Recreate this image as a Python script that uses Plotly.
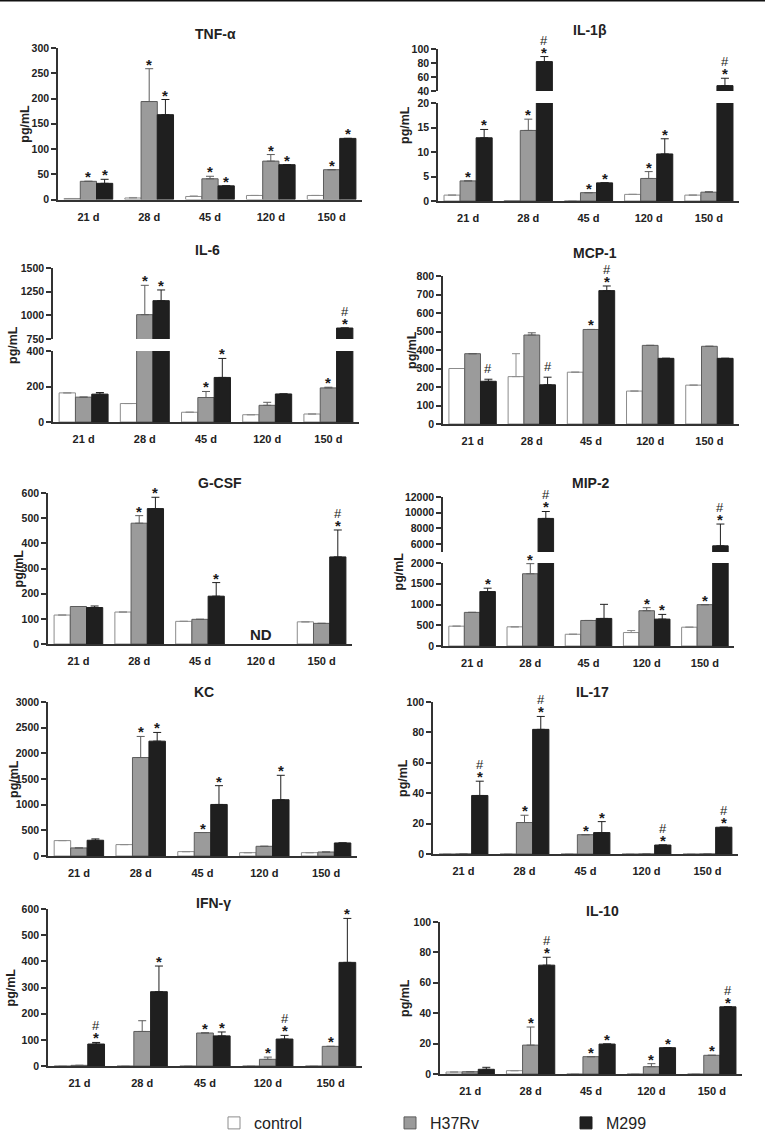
import plotly.graph_objects as go

W, H = 765, 1134

days = ["21 d", "28 d", "45 d", "120 d", "150 d"]
series_names = ["control", "H37Rv", "M299"]

# ---------------- data (mean, SEM, significance marks) ----------------
tnf_ctrl = [2, 3, 6, 8, 8]
tnf_ctrl_err = [0, 1, 1, 0, 0]
tnf_h37 = [36, 194, 41, 76, 59]
tnf_h37_err = [0, 65, 5, 13, 0]
tnf_m299 = [32, 168, 27, 69, 121]
tnf_m299_err = [8, 30, 0, 0, 0]
tnf_marks = [["", "", "", "", ""], ["*", "*", "*", "*", "*"], ["*", "*", "*", "*", "*"]]

il1b_ctrl = [1.2, 0.1, 0, 1.35, 1.2]
il1b_ctrl_err = [0, 0, 0, 0, 0]
il1b_h37 = [4.1, 14.4, 1.7, 4.6, 1.8]
il1b_h37_err = [0, 2.3, 0, 1.4, 0.1]
il1b_m299 = [12.9, 82, 3.7, 9.6, 47.7]
il1b_m299_err = [1.7, 7.2, 0, 3.1, 10.5]
il1b_marks = [["", "", "", "", ""], ["*", "*", "*", "*", ""], ["*", "#*", "*", "*", "#*"]]

il6_ctrl = [164, 104, 55, 41, 45]
il6_ctrl_err = [0, 0, 0, 0, 0]
il6_h37 = [140, 1007, 138, 94, 192]
il6_h37_err = [0, 310, 34, 17, 4]
il6_m299 = [157, 1155, 251, 158, 866]
il6_m299_err = [9, 113, 107, 0, 0]
il6_marks = [["", "", "", "", ""], ["", "*", "*", "", "*"], ["", "*", "*", "", "#*"]]

mcp1_ctrl = [300, 256, 280, 178, 210]
mcp1_ctrl_err = [0, 124, 0, 0, 0]
mcp1_h37 = [380, 481, 511, 425, 420]
mcp1_h37_err = [0, 12, 0, 0, 0]
mcp1_m299 = [231, 212, 721, 355, 355]
mcp1_m299_err = [11, 41, 25, 0, 0]
mcp1_marks = [["", "", "", "", ""], ["", "", "*", "", ""], ["#", "#", "#*", "", ""]]

gcsf_ctrl = [115, 127, 90, None, 88]
gcsf_ctrl_err = [0, 0, 0, 0, 0]
gcsf_h37 = [149, 480, 98, None, 82]
gcsf_h37_err = [0, 30, 0, 0, 0]
gcsf_m299 = [145, 538, 190, None, 346]
gcsf_m299_err = [6, 45, 54, 0, 107]
gcsf_marks = [["", "", "", "", ""], ["", "*", "", "", ""], ["", "*", "*", "", "#*"]]

mip2_ctrl = [478, 462, 283, 324, 453]
mip2_ctrl_err = [0, 0, 0, 48, 0]
mip2_h37 = [810, 1741, 615, 850, 996]
mip2_h37_err = [0, 243, 0, 73, 0]
mip2_m299 = [1312, 9272, 664, 648, 5789]
mip2_m299_err = [81, 882, 340, 113, 2770]
mip2_marks = [["", "", "", "", ""], ["", "*", "", "*", "*"], ["*", "#*", "", "*", "#*"]]

kc_ctrl = [300, 222, 85, 65, 65]
kc_ctrl_err = [0, 0, 0, 0, 0]
kc_h37 = [157, 1918, 457, 189, 78]
kc_h37_err = [0, 411, 0, 0, 0]
kc_m299 = [307, 2237, 1004, 1096, 254]
kc_m299_err = [26, 170, 366, 476, 0]
kc_marks = [["", "", "", "", ""], ["", "*", "*", "", ""], ["", "*", "*", "*", ""]]

il17_ctrl = [0, 0, 0, 0, 0]
il17_ctrl_err = [0, 0, 0, 0, 0]
il17_h37 = [0, 20.7, 12.7, 0, 0]
il17_h37_err = [0, 4.8, 0, 0, 0]
il17_m299 = [38.5, 82, 14.1, 5.9, 17.6]
il17_m299_err = [9.4, 8.5, 7.2, 0, 0]
il17_marks = [["", "", "", "", ""], ["", "*", "*", "", ""], ["#*", "#*", "*", "#*", "#*"]]

ifng_ctrl = [0, 0, 0, 0, 0]
ifng_ctrl_err = [0, 0, 0, 0, 0]
ifng_h37 = [2.5, 132, 126, 25.5, 75]
ifng_h37_err = [0, 41, 1, 8.5, 0]
ifng_m299 = [84, 284, 115, 103, 396]
ifng_m299_err = [6, 98, 15, 14, 168]
ifng_marks = [["", "", "", "", ""], ["", "", "*", "*", "*"], ["#*", "*", "*", "#*", "*"]]

il10_ctrl = [1.3, 2.2, 0, 0, 0]
il10_ctrl_err = [0, 0, 0, 0, 0]
il10_h37 = [1.5, 19, 11.4, 4.8, 12.3]
il10_h37_err = [0, 11.9, 0, 2.0, 0]
il10_m299 = [3.1, 71.6, 19.7, 17.3, 44.2]
il10_m299_err = [1.3, 5.2, 0, 0, 0]
il10_marks = [["", "", "", "", ""], ["", "*", "*", "*", "*"], ["", "#*", "*", "*", "#*"]]

# ---------------- styling / layout geometry ----------------
fills = ["#ffffff", "#9b9b9b", "#1f1f1f"]
edges = ["#8c8c8c", "#5c5c5c", "#1f1f1f"]
AX = "#333333"
BOLD = "Liberation Sans, Arial, sans-serif"
BARGAP = 0.2

def rng(a, b, s):
    return list(range(a, b + 1, s))

panels = [
    dict(title="TNF-α", vals=[tnf_ctrl, tnf_h37, tnf_m299],
         errs=[tnf_ctrl_err, tnf_h37_err, tnf_m299_err], marks=tnf_marks,
         xpx=(58, 362), segs=[(48, 199.5, 0, 300, rng(0, 300, 50))],
         tpos=(215, 34), ylx=25),
    dict(title="IL-1β", vals=[il1b_ctrl, il1b_h37, il1b_m299],
         errs=[il1b_ctrl_err, il1b_h37_err, il1b_m299_err], marks=il1b_marks,
         xpx=(438, 739), segs=[(103, 201, 0, 20, rng(0, 20, 5)), (49, 91, 40, 100, rng(40, 100, 20))],
         tpos=(590, 30), ylx=405),
    dict(title="IL-6", vals=[il6_ctrl, il6_h37, il6_m299],
         errs=[il6_ctrl_err, il6_h37_err, il6_m299_err], marks=il6_marks,
         xpx=(53, 359), segs=[(351, 422, 0, 400, rng(0, 400, 200)), (268, 339, 750, 1500, rng(750, 1500, 250))],
         tpos=(208, 250), ylx=13),
    dict(title="MCP-1", vals=[mcp1_ctrl, mcp1_h37, mcp1_m299],
         errs=[mcp1_ctrl_err, mcp1_h37_err, mcp1_m299_err], marks=mcp1_marks,
         xpx=(443, 739), segs=[(276, 424, 0, 800, rng(0, 800, 100))],
         tpos=(595, 253), ylx=412),
    dict(title="G-CSF", vals=[gcsf_ctrl, gcsf_h37, gcsf_m299],
         errs=[gcsf_ctrl_err, gcsf_h37_err, gcsf_m299_err], marks=gcsf_marks,
         xpx=(48, 352), segs=[(493, 644, 0, 600, rng(0, 600, 100))],
         tpos=(220, 483), ylx=18, nd="120 d"),
    dict(title="MIP-2", vals=[mip2_ctrl, mip2_h37, mip2_m299],
         errs=[mip2_ctrl_err, mip2_h37_err, mip2_m299_err], marks=mip2_marks,
         xpx=(443, 734), segs=[(563, 646, 0, 2000, rng(0, 2000, 500)), (497, 552, 5000, 12000, rng(6000, 12000, 2000))],
         tpos=(591, 483), ylx=398),
    dict(title="KC", vals=[kc_ctrl, kc_h37, kc_m299],
         errs=[kc_ctrl_err, kc_h37_err, kc_m299_err], marks=kc_marks,
         xpx=(48, 357), segs=[(702, 856, 0, 3000, rng(0, 3000, 500))],
         tpos=(204, 692), ylx=14),
    dict(title="IL-17", vals=[il17_ctrl, il17_h37, il17_m299],
         errs=[il17_ctrl_err, il17_h37_err, il17_m299_err], marks=il17_marks,
         xpx=(433, 738), segs=[(702, 854, 0, 100, rng(0, 100, 20))],
         tpos=(592, 692), ylx=403),
    dict(title="IFN-γ", vals=[ifng_ctrl, ifng_h37, ifng_m299],
         errs=[ifng_ctrl_err, ifng_h37_err, ifng_m299_err], marks=ifng_marks,
         xpx=(48, 362), segs=[(909, 1066, 0, 600, rng(0, 600, 100))],
         tpos=(213, 903), ylx=10),
    dict(title="IL-10", vals=[il10_ctrl, il10_h37, il10_m299],
         errs=[il10_ctrl_err, il10_h37_err, il10_m299_err], marks=il10_marks,
         xpx=(440, 742), segs=[(922, 1074, 0, 100, rng(0, 100, 20))],
         tpos=(602, 911), ylx=405),
]

fig = go.Figure()
layout_axes = {}
annotations = []

STAR_SHIFT = -6
HASH_OVER_STAR = 13
HASH_ALONE = 1
MARK_COLOR = "#1a1a1a"

yi = 0
for pi, p in enumerate(panels):
    xi = pi + 1
    xname = "x" if xi == 1 else f"x{xi}"
    xkey = "xaxis" if xi == 1 else f"xaxis{xi}"
    x0, x1 = p["xpx"]
    bw = (x1 - x0) / 5 * (1 - BARGAP) / 3
    ynames = []
    for k, (ytop, ybot, lo, hi, ticks) in enumerate(p["segs"]):
        yi += 1
        yname = "y" if yi == 1 else f"y{yi}"
        ykey = "yaxis" if yi == 1 else f"yaxis{yi}"
        ynames.append((yname, lo, hi))
        layout_axes[ykey] = dict(
            domain=[1 - ybot / H, 1 - ytop / H], range=[lo, hi], anchor=xname,
            tickvals=ticks, tickformat="d", ticks="outside", ticklen=5, tickwidth=1.5, tickcolor=AX,
            showline=True, linecolor=AX, linewidth=1.6, showgrid=False, zeroline=False,
            tickfont=dict(family=BOLD, size=10.5, color="#222222", weight="bold"),
            fixedrange=True, automargin=False,
        )
        for s in range(3):
            fig.add_trace(go.Bar(
                x=days, y=p["vals"][s], name=series_names[s],
                xaxis=xname, yaxis=yname,
                marker=dict(color=fills[s], line=dict(color=edges[s], width=1)),
                error_y=dict(type="data", array=p["errs"][s], symmetric=False,
                             arrayminus=[0] * 5, color=edges[s], thickness=1, width=4),
                showlegend=(pi == 0 and k == 0), legendgroup=series_names[s],
                hoverinfo="skip",
            ))
    layout_axes[xkey] = dict(
        domain=[x0 / W, x1 / W], anchor=ynames[0][0], type="category",
        categoryorder="array", categoryarray=days, range=[-0.5, 4.5],
        showline=True, linecolor=AX, linewidth=1.6, ticks="", showgrid=False,
        ticklabelstandoff=6,
        tickfont=dict(family=BOLD, size=11, color="#222222", weight="bold"),
        fixedrange=True, automargin=False,
    )
    # title & y-label
    tx, ty = p["tpos"]
    annotations.append(dict(text=p["title"], x=tx / W, y=1 - ty / H, xref="paper", yref="paper",
                            showarrow=False, xanchor="center", yanchor="middle",
                            font=dict(family=BOLD, size=14, color="#222222", weight="bold")))
    ymid = (p["segs"][-1][0] + p["segs"][0][1]) / 2
    annotations.append(dict(text="pg/mL", x=p["ylx"] / W, y=1 - ymid / H, xref="paper", yref="paper",
                            showarrow=False, textangle=-90, xanchor="center", yanchor="middle",
                            font=dict(family=BOLD, size=12.5, color="#222222", weight="bold")))
    # significance marks
    for s in range(3):
        for i in range(5):
            m = p["marks"][s][i]
            if not m:
                continue
            v = p["vals"][s][i] or 0
            top = v + p["errs"][s][i]
            yref = ynames[0][0]
            if len(ynames) > 1 and top > ynames[0][2]:
                yref = ynames[1][0]
            xs = (s - 1) * bw
            if "*" in m:
                annotations.append(dict(text="*", x=days[i], y=top, xref=xname, yref=yref,
                                        showarrow=False, yanchor="bottom", xanchor="center",
                                        xshift=xs, yshift=STAR_SHIFT,
                                        font=dict(family=BOLD, size=15, color=MARK_COLOR, weight="bold")))
                if "#" in m:
                    annotations.append(dict(text="#", x=days[i], y=top, xref=xname, yref=yref,
                                            showarrow=False, yanchor="bottom", xanchor="center",
                                            xshift=xs, yshift=STAR_SHIFT + HASH_OVER_STAR,
                                            font=dict(family=BOLD, size=13, color=MARK_COLOR)))
            elif "#" in m:
                annotations.append(dict(text="#", x=days[i], y=top, xref=xname, yref=yref,
                                        showarrow=False, yanchor="bottom", xanchor="center",
                                        xshift=xs, yshift=HASH_ALONE,
                                        font=dict(family=BOLD, size=13, color=MARK_COLOR)))
    if p.get("nd"):
        annotations.append(dict(text="ND", x=p["nd"], y=0, xref=xname, yref=ynames[0][0],
                                showarrow=False, yanchor="bottom", xanchor="center", yshift=-1,
                                font=dict(family=BOLD, size=15, color="#222222", weight="bold")))

fig.update_layout(
    width=W, height=H, margin=dict(l=0, r=0, t=0, b=0, autoexpand=False),
    paper_bgcolor="white", plot_bgcolor="white",
    barmode="group", bargap=BARGAP, bargroupgap=0,
    showlegend=True,
    legend=dict(orientation="h", x=214 / W, xanchor="left", y=1 - 1123 / H, yanchor="middle",
                entrywidth=131, entrywidthmode="pixels",
                font=dict(family="Liberation Sans Narrow, Arial Narrow, Liberation Sans", size=16, color="#222222")),
    annotations=annotations,
    shapes=[dict(type="line", xref="paper", yref="paper", x0=0, x1=1, y0=1, y1=1,
                 line=dict(color="#111111", width=3))],
    **layout_axes,
)

POST = (
    "document.documentElement.style.margin='0px';"
    "document.documentElement.style.overflow='hidden';"
    "document.body.style.margin='0px';"
    "document.body.style.overflow='hidden';"
    "var gd=document.getElementsByClassName('plotly-graph-div')[0];"
    "gd.style.position='fixed';gd.style.top='0px';gd.style.left='0px';"
)

fig.write_html("out.html", config={"displayModeBar": False}, post_script=POST)
